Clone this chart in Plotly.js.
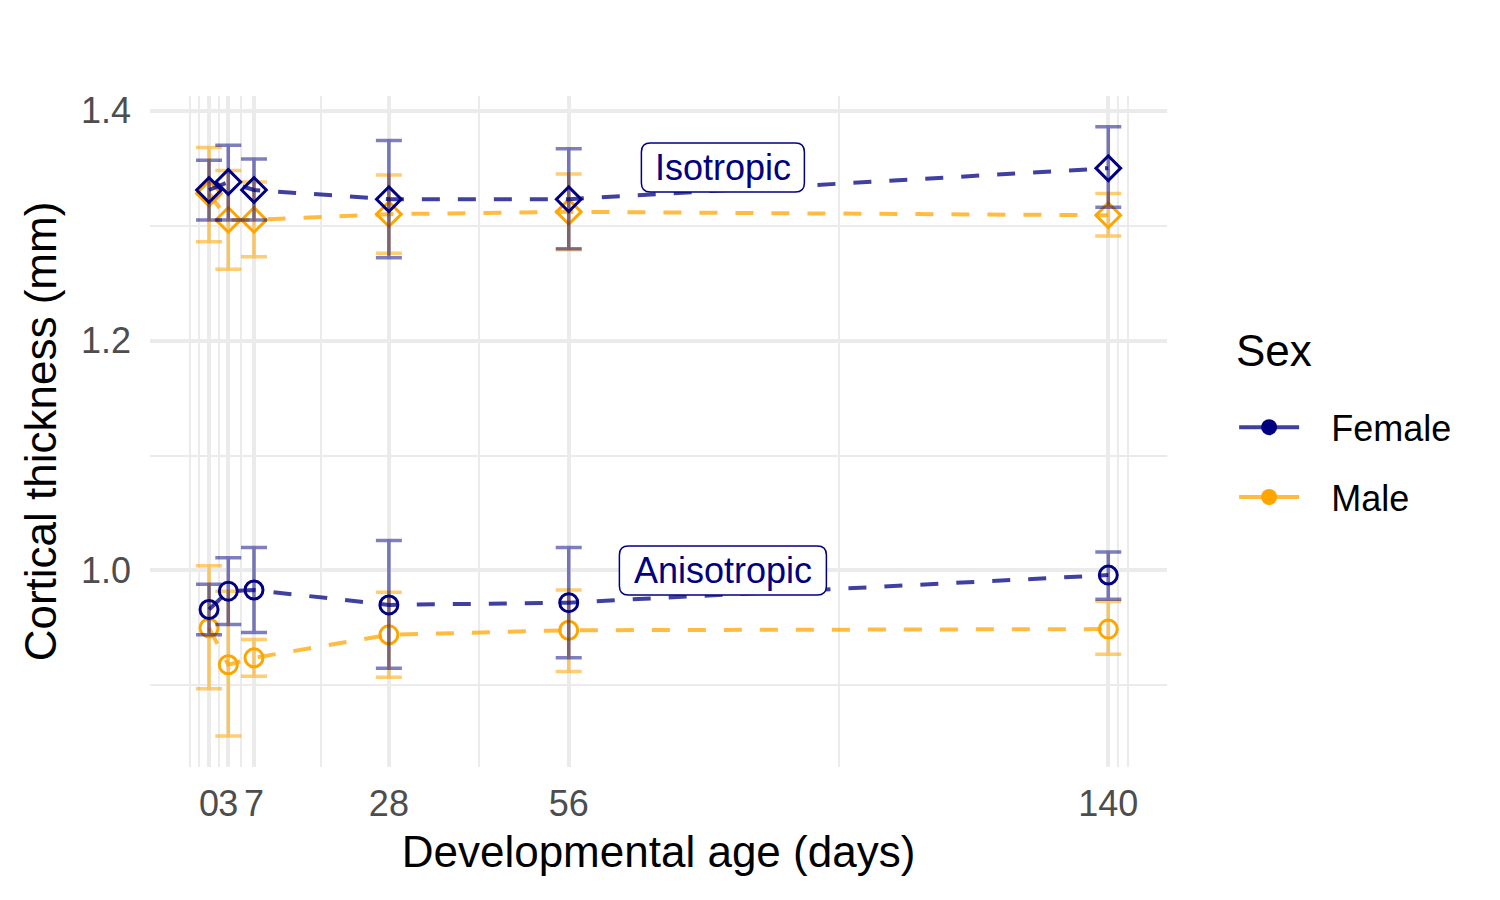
<!DOCTYPE html>
<html>
<head>
<meta charset="utf-8">
<script src="https://cdn.plot.ly/plotly-3.0.1.min.js"></script>
<style>html,body{margin:0;padding:0;background:#fff;} #chart{width:1500px;height:900px;}</style>
</head>
<body>
<div id="chart"></div>
<script>
// ---- data ----
var days = [0, 3, 7, 28, 56, 140];
var dayLabels = ["0", "3", "7", "28", "56", "140"];
var minorDays = [-3, -1.5, 1.5, 5, 17.5, 42, 98, 141.5, 143];

var isoFemale   = [1.331, 1.338, 1.331, 1.323, 1.323, 1.350];
var isoFemaleHi = [1.357, 1.370, 1.358, 1.374, 1.367, 1.386];
var isoFemaleLo = [1.305, 1.305, 1.305, 1.272, 1.280, 1.316];

var isoMale   = [1.328, 1.305, 1.305, 1.310, 1.312, 1.309];
var isoMaleHi = [1.368, 1.348, 1.338, 1.344, 1.345, 1.328];
var isoMaleLo = [1.286, 1.262, 1.273, 1.276, 1.279, 1.291];

var anisoFemale   = [0.966, 0.982, 0.983, 0.970, 0.972, 0.996];
var anisoFemaleHi = [0.988, 1.011, 1.020, 1.026, 1.020, 1.016];
var anisoFemaleLo = [0.944, 0.953, 0.946, 0.915, 0.924, 0.975];

var anisoMale   = [0.950, 0.918, 0.924, 0.944, 0.948, 0.949];
var anisoMaleHi = [1.004, 0.982, 0.940, 0.981, 0.983, 0.973];
var anisoMaleLo = [0.897, 0.856, 0.908, 0.907, 0.912, 0.927];

var legendTitle = "Sex";
var sexNames = ["Female", "Male"];
var yTicks = [1.0, 1.2, 1.4];
var yTickLabels = ["1.0", "1.2", "1.4"];
var yMinor = [0.9, 1.1, 1.3];
var labelTexts = ["Isotropic", "Anisotropic"];
var labelX = [80, 80];
var labelY = [1.3506, 1.0];

// ---- styling ----
var FONT = "Liberation Sans, Arial, Helvetica, sans-serif";
var navy = "#000080", orange = "#FFA500";
var navyLine = "rgba(0,0,128,0.75)", orangeLine = "rgba(255,165,0,0.75)";
var navyErr = "rgba(0,0,128,0.5)", orangeErr = "rgba(255,165,0,0.55)";
var labelBoxW = [163, 207], labelBoxH = 49, labelR = 9;

function diff(a, b) { return a.map(function (v, i) { return v - b[i]; }); }

function series(vals, hi, lo, lineCol, errCol, markCol, symbol, size) {
  return {
    type: "scatter", mode: "lines+markers", x: days, y: vals,
    showlegend: false, hoverinfo: "x+y",
    line: {color: lineCol, width: 4, dash: "18px,18px"},
    marker: {symbol: symbol, size: size, color: markCol, line: {color: markCol, width: 3}},
    error_y: {type: "data", symmetric: false, array: diff(hi, vals), arrayminus: diff(vals, lo),
              color: errCol, thickness: 3.5, width: 13}
  };
}

var traces = [
  series(isoMale, isoMaleHi, isoMaleLo, orangeLine, orangeErr, orange, "diamond-open", 19),
  series(anisoMale, anisoMaleHi, anisoMaleLo, orangeLine, orangeErr, orange, "circle-open", 18),
  series(isoFemale, isoFemaleHi, isoFemaleLo, navyLine, navyErr, navy, "diamond-open", 19),
  series(anisoFemale, anisoFemaleHi, anisoFemaleLo, navyLine, navyErr, navy, "circle-open", 18),
  {type: "scatter", mode: "lines+markers", x: [null], y: [null], name: "\u00A0\u00A0\u2009" + sexNames[0], legendgroup: "f",
   line: {color: navyLine, width: 4}, marker: {symbol: "circle", size: 18, color: navy}},
  {type: "scatter", mode: "lines+markers", x: [null], y: [null], name: "\u00A0\u00A0\u2009" + sexNames[1], legendgroup: "m",
   line: {color: orangeLine, width: 4}, marker: {symbol: "circle", size: 18, color: orange}}
];

function roundRect(w, h, r) {
  var x0 = -w / 2, x1 = w / 2, y0 = -h / 2, y1 = h / 2;
  return "M" + (x0 + r) + "," + y0 + " L" + (x1 - r) + "," + y0 +
         " Q" + x1 + "," + y0 + " " + x1 + "," + (y0 + r) +
         " L" + x1 + "," + (y1 - r) + " Q" + x1 + "," + y1 + " " + (x1 - r) + "," + y1 +
         " L" + (x0 + r) + "," + y1 + " Q" + x0 + "," + y1 + " " + x0 + "," + (y1 - r) +
         " L" + x0 + "," + (y0 + r) + " Q" + x0 + "," + y0 + " " + (x0 + r) + "," + y0 + " Z";
}

var shapes = labelTexts.map(function (t, i) {
  return {type: "path", xref: "x", yref: "y", xsizemode: "pixel", ysizemode: "pixel",
          xanchor: labelX[i], yanchor: labelY[i], path: roundRect(labelBoxW[i], labelBoxH, labelR),
          fillcolor: "#ffffff", line: {color: navy, width: 1.5}, layer: "above"};
});

var annotations = labelTexts.map(function (t, i) {
  return {x: labelX[i], y: labelY[i], xref: "x", yref: "y", text: t, showarrow: false,
          font: {family: FONT, size: 36, color: navy}, borderpad: 0};
});
// legend title placed as paper-anchored text
annotations.push({x: (1234 - 150) / 1017, y: (767 - 350) / 671, xref: "paper", yref: "paper",
  text: legendTitle, showarrow: false, xanchor: "left", yanchor: "middle",
  font: {family: FONT, size: 44, color: "#000"}});

var layout = {
  width: 1500, height: 900,
  paper_bgcolor: "#ffffff", plot_bgcolor: "#ffffff",
  margin: {l: 150, r: 333, t: 96, b: 133},
  font: {family: FONT, color: "#000000"},
  xaxis: {
    range: [-9.19, 149.14], tickmode: "array", tickvals: days, ticktext: dayLabels,
    tickangle: 0, ticks: "", showline: false, zeroline: false,
    showgrid: true, gridcolor: "#EBEBEB", gridwidth: 4, ticklabelstandoff: 12,
    tickfont: {family: FONT, size: 36, color: "#4D4D4D"},
    minor: {tickmode: "array", tickvals: minorDays, showgrid: true, gridcolor: "#EBEBEB", gridwidth: 2, ticks: ""},
    title: {text: "Developmental age (days)", font: {family: FONT, size: 44, color: "#000"}, standoff: 13},
    automargin: false
  },
  yaxis: {
    range: [0.829, 1.4128], tickmode: "array", tickvals: yTicks, ticktext: yTickLabels,
    ticks: "", showline: false, zeroline: false,
    showgrid: true, gridcolor: "#EBEBEB", gridwidth: 4, ticklabelstandoff: 18,
    tickfont: {family: FONT, size: 36, color: "#4D4D4D"},
    minor: {tickmode: "array", tickvals: yMinor, showgrid: true, gridcolor: "#EBEBEB", gridwidth: 2, ticks: ""},
    title: {text: "Cortical thickness (mm)", font: {family: FONT, size: 44, color: "#000"}, standoff: 10},
    automargin: false
  },
  legend: {
    x: 1.066, xanchor: "left", y: 0.551, yanchor: "top",
    font: {family: FONT, size: 36, color: "#000"},
    traceorder: "grouped", tracegroupgap: 20, itemwidth: 60,
    bgcolor: "rgba(0,0,0,0)"
  },
  shapes: shapes,
  annotations: annotations,
  showlegend: true
};

Plotly.newPlot("chart", traces, layout, {displayModeBar: false, staticPlot: true});
</script>
</body>
</html>
